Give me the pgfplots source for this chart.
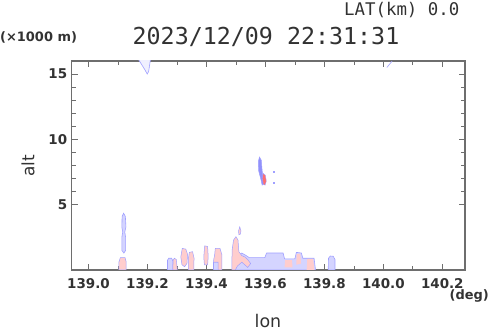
\documentclass[border=0pt]{standalone}
\usepackage{pgfplots}
\pgfplotsset{compat=1.18}
\usepackage{fontspec}
\setmainfont{DejaVu Sans}
\newfontfamily\monofont{DejaVu Sans Mono}
\definecolor{bfill}{RGB}{212,212,255}
\definecolor{bedge}{RGB}{160,160,255}
\definecolor{bdeep}{RGB}{145,145,250}
\definecolor{pfill}{RGB}{255,205,205}
\definecolor{redc}{RGB}{255,110,110}
\definecolor{axgray}{RGB}{110,110,110}
\definecolor{txt}{RGB}{50,50,50}
\begin{document}
\begin{tikzpicture}
\path[use as bounding box] (0,0) rectangle (490bp,331bp);
\begin{axis}[
  at={(71.7bp,61bp)}, anchor=south west,
  scale only axis, width=393.3bp, height=209bp,
  xmin=138.943, xmax=140.277, ymin=0, ymax=16,
  xtick={139.0,139.2,139.4,139.6,139.8,140.0,140.2},
  minor x tick num=1,
  ytick={5,10,15}, minor y tick num=4,
  tick align=inside,
  major tick length=6bp, minor tick length=4bp,
  axis line style={axgray, line width=1.1bp},
  every tick/.style={axgray, line width=0.7bp},
  tick label style={font=\fontsize{13.5}{15}\selectfont\bfseries, text=txt},
  /pgf/number format/assume math mode=true,
  xticklabel style={/pgf/number format/fixed, /pgf/number format/fixed zerofill, /pgf/number format/precision=1, yshift=-5bp},
  yticklabel style={xshift=-1bp},
]
% top features
\addplot[draw=bedge, fill=blue!6, line width=0.6bp] coordinates {(139.170,16.1) (139.192,15.3) (139.199,15.0) (139.204,15.2) (139.210,16.1)} -- cycle;
\addplot[draw=bedge, line width=0.6bp] coordinates {(140.030,16.0) (140.012,15.5)};
% column at 139.12
\addplot[draw=bedge, fill=bfill, line width=0.6bp] coordinates {(139.119,4.35) (139.125,4.1) (139.127,3.3) (139.123,2.9) (139.126,2.5) (139.126,1.5) (139.120,1.3) (139.113,1.5) (139.113,2.5) (139.116,2.9) (139.113,3.3) (139.114,4.1)} -- cycle;
\addplot[draw=bedge, fill=pfill, line width=0.5bp] coordinates {(139.103,0) (139.103,0.6) (139.108,0.95) (139.124,0.95) (139.128,0.6) (139.128,0)} -- cycle;
% cell at 139.59
\addplot[draw=bedge, fill=bdeep, line width=0.5bp] coordinates {(139.580,8.65) (139.586,8.4) (139.589,7.6) (139.593,7.0) (139.594,6.6) (139.589,6.5) (139.584,7.0) (139.577,7.6) (139.576,8.3)} -- cycle;
\addplot[draw=bedge, fill=redc, line width=0.4bp] coordinates {(139.592,7.4) (139.600,7.25) (139.603,6.8) (139.599,6.5) (139.593,6.55) (139.590,7.0)} -- cycle;
\addplot[only marks, mark=square*, mark size=0.6bp, color=bedge] coordinates {(139.627,7.5) (139.627,6.67)};
% low clutter: blue band
\addplot[draw=bedge, fill=bfill, line width=0.6bp] coordinates {(139.498,0) (139.500,1.0) (139.520,1.3) (139.535,1.1) (139.545,0.95) (139.598,0.95) (139.604,1.3) (139.660,1.3) (139.665,0.85) (139.700,0.85) (139.705,1.35) (139.722,1.3) (139.727,0.9) (139.765,0.9) (139.770,0)} -- cycle;
\addplot[draw=bedge, fill=bfill, line width=0.6bp] coordinates {(139.268,0) (139.268,0.75) (139.272,0.9) (139.282,0.9) (139.286,0.7) (139.286,0)} -- cycle;
\addplot[draw=bedge, fill=bfill, line width=0.6bp] coordinates {(139.813,0) (139.814,0.9) (139.820,1.07) (139.830,1.05) (139.836,0.8) (139.836,0)} -- cycle;
\addplot[draw=bedge, fill=bfill, line width=0.6bp] coordinates {(139.424,0) (139.424,0.6) (139.440,0.6) (139.445,0)} -- cycle;
% pink patches
\addplot[draw=bedge, fill=pfill, line width=0.5bp] coordinates {(139.286,0) (139.287,0.75) (139.291,0.9) (139.298,0.8) (139.301,0)} -- cycle;
\addplot[draw=bedge, fill=pfill, line width=0.5bp] coordinates {(139.318,1.65) (139.330,1.6) (139.336,1.2) (139.334,0.5) (139.326,0.25) (139.317,0.4) (139.313,1.0)} -- cycle;
\addplot[draw=bedge, fill=pfill, line width=0.5bp] coordinates {(139.342,1.35) (139.353,1.4) (139.358,0.9) (139.357,0) (139.339,0) (139.339,0.9)} -- cycle;
\addplot[draw=bedge, fill=pfill, line width=0.5bp] coordinates {(139.394,1.85) (139.404,1.8) (139.406,1.0) (139.404,0.4) (139.393,0.4) (139.391,1.0)} -- cycle;
\addplot[draw=bedge, fill=pfill, line width=0.5bp] coordinates {(139.430,1.65) (139.446,1.65) (139.452,1.2) (139.452,0) (139.440,0) (139.440,0.6) (139.424,0.6) (139.424,0.7) (139.428,1.2)} -- cycle;
\addplot[draw=bedge, fill=pfill, line width=0.5bp] coordinates {(139.486,0) (139.487,1.5) (139.492,2.3) (139.500,2.55) (139.507,2.3) (139.510,1.4) (139.520,1.1) (139.530,1.0) (139.540,0.8) (139.550,0.5) (139.540,0.2) (139.520,0.6) (139.505,0.3) (139.498,0)} -- cycle;
\addplot[draw=bedge, fill=pfill, line width=0.5bp] coordinates {(139.510,2.7) (139.515,2.75) (139.517,3.0) (139.513,3.3) (139.509,3.0)} -- cycle;
\addplot[draw=none, fill=pfill] coordinates {(139.705,0.4) (139.706,1.2) (139.718,1.25) (139.721,0.5)} -- cycle;
\addplot[draw=none, fill=pfill] coordinates {(139.740,0) (139.742,0.85) (139.762,0.85) (139.766,0)} -- cycle;
\addplot[draw=none, fill=pfill] coordinates {(139.665,0.2) (139.667,0.75) (139.690,0.75) (139.692,0.2)} -- cycle;
\end{axis}
\node[anchor=base east, font=\monofont\fontsize{17.5}{20}\selectfont, text=txt] at (463bp,315bp) {LAT(km) 0.0};
\node[anchor=base, font=\monofont\fontsize{23.4}{26}\selectfont, text=txt] at (266bp,286bp) {2023/12/09 22:31:31};
\node[anchor=base west, font=\fontsize{13}{15}\selectfont\bfseries, text=txt, inner sep=0pt] at (0bp,289.5bp) {(×1000 m)};
\node[anchor=base east, font=\fontsize{13}{15}\selectfont\bfseries, text=txt, inner sep=0pt] at (489bp,32bp) {(deg)};
\node[anchor=base, font=\fontsize{17.5}{20}\selectfont, text=txt, inner sep=0pt] at (268bp,3.5bp) {lon};
\node[rotate=90, font=\fontsize{17}{20}\selectfont, text=txt, inner sep=0pt] at (28bp,165bp) {alt};
\end{tikzpicture}
\end{document}
